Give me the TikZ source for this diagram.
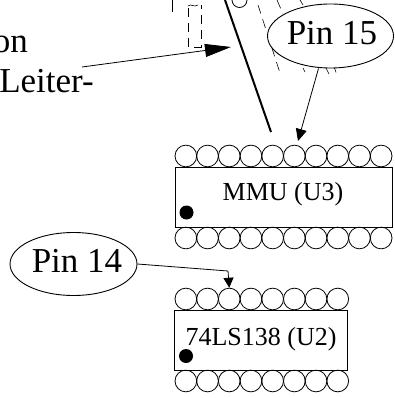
\documentclass[tikz,border=0pt]{standalone}
\usepackage{fontspec}
\setmainfont{Liberation Serif}
\usetikzlibrary{arrows.meta,shapes.geometric}
\tikzset{
  x=1pt,y=-1pt,
  pin/.style={draw,circle,line width=.8pt,minimum size=21.7pt,inner sep=0pt},
  chip/.style={draw,line width=.9pt,fill=white,inner sep=0pt},
  oval/.style={draw,ellipse,line width=.9pt,fill=white,inner sep=0pt},
  big/.style={font=\fontsize{35}{35}\selectfont,inner sep=0pt},
  med/.style={font=\fontsize{26}{26}\selectfont,inner sep=0pt},
  dot/.style={circle,fill=black,minimum size=14pt,inner sep=0pt},
  lead/.style={line width=.8pt},
  dashline/.style={line width=.6pt,dash pattern=on 9pt off 6pt},
  head/.style 2 args={-{Triangle[length=#1,width=#2]}}
}
\begin{document}
\begin{tikzpicture}
\useasboundingbox (0,0) rectangle (394,398);
\clip (0,0) rectangle (394,398);
% background sketch
\draw[line width=.8pt] (172,0) -- (172,12);
\draw[dashline] (188,8) -- (188,47) -- (201,47) -- (201,5);
\draw[line width=.6pt] (188,6) .. controls (191,3) and (194,8) .. (198,5);
\draw[line width=.8pt] (239.5,0) circle[radius=7.5];
\draw[dashline] (258,5) -- (280,73);
\draw[dashline] (277,0) -- (283,14);
\draw[dashline] (300,0) -- (303,5);
\draw[dashline] (303,68) -- (305,72);
\draw[dashline] (326,68) -- (329,74);
\draw[dashline] (333,64) -- (337,75);
\draw[line width=2pt] (225,0) -- (271,132);
% texts at left
\node[big,anchor=base east] (tvon) at (28,53) {on};
\node[big,anchor=base east] (tleiter) at (94,93) {Leiter-};
% ovals
\node[oval,minimum width=126pt,minimum height=64pt] (p15) at (330.5,36) {};
\node[big,anchor=base] (p15t) at (332,45) {Pin 15};
\node[oval,minimum width=127pt,minimum height=63pt] (p14) at (73.5,264) {};
\node[big,anchor=base] (p14t) at (77,272) {Pin 14};
% MMU
\node[chip,minimum width=217pt,minimum height=60pt] (u3) at (283.5,197) {};
\node[med,anchor=base] (u3t) at (283,200.5) {MMU (U3)};
\node[dot] (u3d) at (186.5,212.5) {};
\foreach \i in {0,...,9} {
  \node[pin] (a\i) at ({175+10.85+21.7*\i},156) {};
  \node[pin] (b\i) at ({175+10.85+21.7*\i},238) {};
}
% 74LS138
\node[chip,minimum width=173pt,minimum height=60pt] (u2) at (261,340) {};
\node[med,anchor=base] (u2t) at (261,345) {74LS138 (U2)};
\node[dot] (u2d) at (186,356) {};
\foreach \i in {0,...,7} {
  \node[pin] (c\i) at ({175+10.85+21.7*\i},299) {};
  \node[pin] (d\i) at ({175+10.85+21.7*\i},381) {};
}
% connectors
\coordinate (lstart) at (82,67);
\coordinate (ltip) at (231,47);
\coordinate (p15tip) at (298,141);
\coordinate (bend) at (228,271);
\draw[lead,head={26pt}{13pt}] (lstart) -- (ltip);
\draw[lead,head={12pt}{11pt}] (p15.south) ++(-12,0) -- (p15tip);
\draw[lead,head={10pt}{10pt}] (p14.east) -- (bend) -- (c2.north);
\end{tikzpicture}
\end{document}
